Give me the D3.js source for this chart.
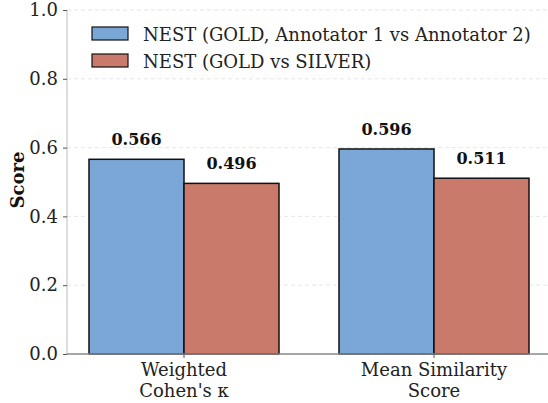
<!DOCTYPE html>
<html><head><meta charset="utf-8">
<script src="https://cdn.jsdelivr.net/npm/d3@7"></script>
<style>body{margin:0;background:#fff}svg{display:block}</style>
</head><body>
<svg id="c" width="548" height="403"></svg>
<script>
const categories = [["Weighted", "Cohen's κ"], ["Mean Similarity", "Score"]];
const seriesNames = ["NEST (GOLD, Annotator 1 vs Annotator 2)", "NEST (GOLD vs SILVER)"];
const seriesA = [0.566, 0.596];
const seriesB = [0.496, 0.511];
const yTicks = [0.0, 0.2, 0.4, 0.6, 0.8, 1.0];
const colors = ["#7ba7d7", "#c97a6b"];

(function () {
const FF = '"DejaVu Serif"';
const svg = d3.select("#c");
const mL = 67, mR = 548, mT = 10, mB = 354;
const x = d3.scaleLinear().domain([-0.468, 1.456]).range([mL, mR]);
const y = d3.scaleLinear().domain([0, 1]).range([mB, mT]);
const bw = 0.38;

// grid
svg.append("g").selectAll("line").data(yTicks.slice(1)).join("line")
  .attr("x1", mL).attr("x2", mR).attr("y1", d => y(d)).attr("y2", d => y(d))
  .attr("stroke", "#e0e0e0").attr("stroke-dasharray", "4,3").attr("stroke-width", 0.8);

const series = [seriesA, seriesB];
series.forEach((vals, si) => {
  const g = svg.append("g");
  g.selectAll("rect").data(vals).join("rect")
    .attr("x", (d, i) => x(i + (si - 1) * bw))
    .attr("width", x(bw) - x(0))
    .attr("y", d => y(d))
    .attr("height", d => y(0) - y(d))
    .attr("fill", colors[si]).attr("stroke", "#111").attr("stroke-width", 1.5);
  g.selectAll("text").data(vals).join("text")
    .attr("x", (d, i) => x(i + (si - 0.5) * bw))
    .attr("y", d => y(d) - 14)
    .attr("text-anchor", "middle").style("font-weight", "bold").style("font-size", "16px")
    .style("font-family", FF).attr("fill", "#111")
    .text(d => d.toFixed(3));
});

// y axis
const ya = d3.axisLeft(y).tickValues(yTicks).tickFormat(d3.format(".1f")).tickSize(4).tickPadding(5);
const yg = svg.append("g").attr("transform", `translate(${mL},0)`).call(ya);
yg.select(".domain").attr("stroke", "#c8c8c8").attr("stroke-width", 1.2).attr("d", `M0,${mT}V${mB}`);
yg.selectAll(".tick line").attr("stroke", "#555");
yg.selectAll(".tick text").style("font-size", "18px").attr("fill", "#222").style("font-family", FF);

// x axis
const xg = svg.append("g").attr("transform", `translate(0,${mB})`);
xg.append("line").attr("x1", mL).attr("x2", mR).attr("stroke", "#888").attr("stroke-width", 1.5);
categories.forEach((c, i) => {
  xg.append("line").attr("x1", x(i)).attr("x2", x(i)).attr("y1", 0).attr("y2", 4).attr("stroke", "#555");
  c.forEach((line, j) => {
    xg.append("text").attr("x", x(i)).attr("y", 22 + j * 20.5).attr("text-anchor", "middle")
      .style("font-size", "18px").style("font-family", FF).attr("fill", "#222").text(line);
  });
});

// y label
svg.append("text").attr("transform", `translate(24,180) rotate(-90)`)
  .attr("text-anchor", "middle").style("font-weight", "bold").style("font-size", "18px")
  .style("font-family", FF).attr("fill", "#111").text("Score");

// legend
const lg = svg.append("g");
seriesNames.forEach((n, i) => {
  lg.append("rect").attr("x", 92).attr("y", 27 + i * 27).attr("width", 36).attr("height", 13)
    .attr("fill", colors[i]).attr("stroke", "#111").attr("stroke-width", 1.2);
  lg.append("text").attr("x", 143).attr("y", 41 + i * 27).style("font-size", "18px")
    .style("font-family", FF).attr("fill", "#222").text(n);
});
})();
</script>
</body></html>
